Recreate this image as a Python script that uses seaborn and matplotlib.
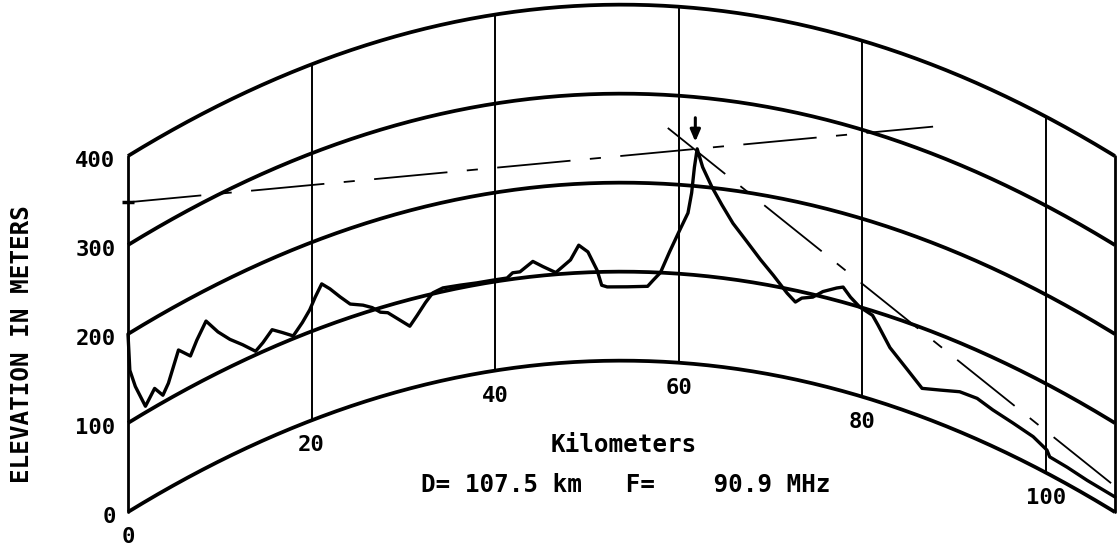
import numpy as np
import pandas as pd
import seaborn as sns
import matplotlib.pyplot as plt

# path profile on a 4/3 earth chart
path_km = 107.5
k_factor = 4 / 3
freq_mhz = 90.9

grid_levels = [0, 100, 200, 300, 400]
grid_km = [0, 20, 40, 60, 80, 100, 107.5]
km_ticks = [0, 20, 40, 60, 80, 100]
km_labels = ['0', '20', '40', '60', '80', '100']
elev_labels = ['0', '100', '200', '300', '400']

# terrain elevation (m) along the path (km)
profile_km = [0.0, 0.2, 0.8, 1.9, 2.9, 3.8, 4.4, 5.5, 6.8, 7.5,
              8.5, 9.8, 11.1, 12.5, 13.9, 14.7, 15.7, 16.8, 18.0, 19.0,
              19.8, 20.4, 21.1, 22.0, 23.1, 24.2, 25.6, 26.6, 27.5, 28.3,
              29.6, 30.7, 31.5, 32.4, 33.2, 34.3, 36.2, 38.0, 39.8, 41.3,
              41.9, 42.7, 44.1, 45.2, 46.6, 48.2, 49.1, 50.1, 51.1, 51.6,
              52.2, 54.4, 56.6, 57.2, 58.0, 59.0, 60.1, 61.0, 61.4, 61.7,
              62.0, 62.6, 63.6, 64.7, 65.9, 67.4, 68.9, 70.3, 71.8, 72.7,
              73.4, 74.6, 75.7, 77.2, 77.9, 78.7, 79.7, 81.1, 81.7, 83.0,
              84.9, 86.5, 88.5, 90.6, 92.5, 94.2, 96.4, 98.6, 100.1, 100.4,
              102.3, 104.5, 107.5]
profile_m = [200, 158, 136, 107, 121, 108, 118, 149, 135, 149,
             165, 146, 131, 118, 104, 110, 120, 112, 103, 114,
             125, 137, 149, 140, 127, 115, 109, 103, 95, 92,
             80, 70, 80, 92, 101, 104, 103, 102, 102, 102,
             107, 107, 117, 110, 102, 115, 131, 123, 102, 85,
             83, 83, 84, 91, 100, 124, 149, 169, 192, 221,
             242, 222, 201, 182, 163, 145, 127, 112, 95, 87,
             93, 97, 106, 114, 117, 108, 100, 95, 86, 65,
             47, 32, 38, 45, 46, 41, 37, 33, 26, 20,
             19, 17, 17]

# radio path and tangent lines (chart heights, m)
los_km = [0, 87.7]
los_m = [348, 433]
tangent_km = [58.8, 107.5]
tangent_m = [431.5, 29]
arrow_km = 61.8
arrow_m = [443, 416]


def bulge(d):
    d = np.asarray(d, dtype=float)
    return d * (path_km - d) / (2 * k_factor * 6.371)


sns.set_style("white")
plt.rcParams['font.family'] = ['DejaVu Sans Mono', 'DejaVu Sans']
plt.rcParams['text.color'] = 'black'
plt.rcParams['lines.scale_dashes'] = False

fig = plt.figure(figsize=(11.17, 5.5), dpi=100)
ax = fig.add_axes([0, 0, 1, 1])
ax.set_xlim(-128 / 9.18, 989 / 9.18)
ax.set_ylim(-38 / 0.89, 512 / 0.89)
ax.axis('off')

# curved elevation grid
d = np.linspace(0, path_km, 200)
for lev in grid_levels:
    ax.plot(d, lev + bulge(d), color='black', lw=2.7, solid_capstyle='butt')
for km in grid_km:
    b = float(bulge(km))
    lw = 2.0 if km in (0, path_km) else 1.4
    ax.plot([km, km], [b, b + grid_levels[-1]], color='black', lw=lw)

# terrain
df = pd.DataFrame({'km': profile_km, 'elev': profile_m})
df['chart'] = df['elev'] + bulge(df['km'])
sns.lineplot(data=df, x='km', y='chart', sort=False, color='black', lw=2.4,
             ax=ax, solid_joinstyle='round')

# path lines
pattern = (53, 14, 8, 14)
ax.plot(los_km, los_m, color='black', lw=1.3, dashes=pattern)
ax.plot([los_km[0]], [los_m[0]], marker='_', ms=9, mew=2.5, color='black')
ax.plot(tangent_km, tangent_m, color='black', lw=1.3, dashes=pattern)
ax.annotate('', xy=(arrow_km, arrow_m[1]), xytext=(arrow_km, arrow_m[0]),
            arrowprops=dict(arrowstyle='-|>,head_length=0.7,head_width=0.3',
                            color='black', lw=2.2, shrinkA=0, shrinkB=0))

# labels
for km, lab in zip(km_ticks, km_labels):
    ax.annotate(lab, xy=(km, float(bulge(km))), xytext=(0, -18),
                textcoords='offset points', ha='center', va='center',
                fontsize=16, fontweight='bold', color='black')
for lev, lab in zip(grid_levels, elev_labels):
    ax.annotate(lab, xy=(0, lev), xytext=(-9, -3.5), textcoords='offset points',
                ha='right', va='center', fontsize=16, fontweight='bold',
                color='black')

fig.text(22 / 1117, 1 - 344 / 550, 'ELEVATION IN METERS', rotation=90,
         ha='center', va='center', fontsize=17.5, fontweight='bold')
fig.text(624 / 1117, 1 - 445 / 550, 'Kilometers', ha='center', va='center',
         fontsize=17.5, fontweight='bold')
fig.text(626 / 1117, 1 - 485 / 550,
         'D= %.1f km   F=    %.1f MHz' % (path_km, freq_mhz),
         ha='center', va='center', fontsize=17.5, fontweight='bold')

fig.savefig('out.png', dpi=100)
